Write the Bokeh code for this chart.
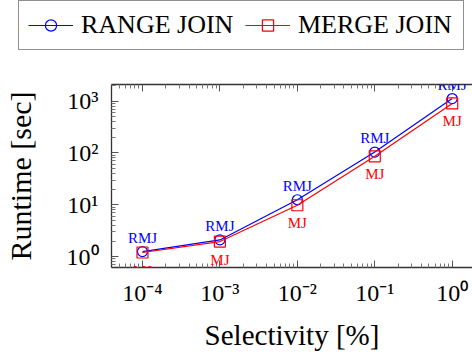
from bokeh.plotting import figure
from bokeh.layouts import column
from bokeh.models import (FixedTicker, LogAxis, Legend, LegendItem, Range1d,
                          ColumnDataSource, LabelSet)
from bokeh.embed import file_html
from bokeh.resources import INLINE

# ---- data -------------------------------------------------------------
selectivity = [1e-4, 1e-3, 1e-2, 1e-1, 1e0]
range_join = [1.25, 2.1, 12.5, 104, 1120]
merge_join = [1.2, 1.95, 9.8, 86, 900]
range_labels = ["RMJ", "RMJ", "RMJ", "RMJ", "RMJ"]
merge_labels = ["MJ", "MJ", "MJ", "MJ", "MJ"]
series_names = ["RANGE JOIN", "MERGE JOIN"]

x_ticks = [1e-4, 1e-3, 1e-2, 1e-1, 1e0]
x_tick_labels = ["10\u207b\u2074", "10\u207b\u00b3", "10\u207b\u00b2", "10\u207b\u00b9", "10\u2070"]
y_ticks = [1e0, 1e1, 1e2, 1e3]
y_tick_labels = ["10\u2070", "10\u00b9", "10\u00b2", "10\u00b3"]

FONT = "Liberation Serif"

x_minor = [m * 10.0 ** e for e in range(-5, 1) for m in range(2, 10)]
y_minor = [m * 10.0 ** e for e in range(-1, 4) for m in range(2, 10)]

# ---- main plot ---------------------------------------------------------
p = figure(width=472, height=300, x_axis_type="log", y_axis_type="log",
           x_range=Range1d(10 ** -4.4, 10 ** 0.262),
           y_range=Range1d(10 ** -0.21, 10 ** 3.32),
           output_backend="svg", toolbar_location=None,
           min_border_left=111, min_border_right=0,
           min_border_top=30, min_border_bottom=87)
p.frame_align = False
p.outline_line_color = None
p.xgrid.visible = False
p.ygrid.visible = False

def draw_series(fig, ys, color, marker, size, visible=True):
    ln = fig.line(selectivity, ys, line_color=color, line_width=1.2, visible=visible)
    mk = fig.scatter(selectivity, ys, marker=marker, size=size, line_color=color,
                     fill_color=None, line_width=1.2, visible=visible)
    return ln, mk

draw_series(p, range_join, "blue", "circle", 10)
draw_series(p, merge_join, "red", "square", 11)

range_src = ColumnDataSource(dict(x=selectivity, y=range_join, t=range_labels))
merge_src = ColumnDataSource(dict(x=selectivity, y=merge_join, t=merge_labels))
p.add_layout(LabelSet(x="x", y="y", text="t", source=range_src, text_color="blue",
                      text_align="center", text_baseline="alphabetic", y_offset=9,
                      text_font=FONT, text_font_size="15px"))
p.add_layout(LabelSet(x="x", y="y", text="t", source=merge_src, text_color="red",
                      text_align="center", text_baseline="top", y_offset=-10,
                      text_font=FONT, text_font_size="15px"))

def style_axis(ax, ticks, minor, labels):
    ax.ticker = FixedTicker(ticks=ticks, minor_ticks=minor)
    ax.major_tick_in = 7
    ax.major_tick_out = 0
    ax.minor_tick_in = 4
    ax.minor_tick_out = 0
    ax.axis_line_color = "#333333"
    ax.axis_line_width = 1.3
    ax.major_tick_line_color = "#555555"
    ax.minor_tick_line_color = "#777777"
    ax.major_label_overrides = dict(zip(ticks, labels))
    ax.major_label_text_font = FONT
    ax.major_label_text_color = "black"
    ax.major_label_text_font_size = "24px"
    ax.axis_label_text_font = FONT
    ax.axis_label_text_font_style = "normal"
    ax.axis_label_text_color = "black"
    ax.axis_label_text_font_size = "29px"

xa = p.xaxis[0]
style_axis(xa, x_ticks, x_minor, x_tick_labels)
xa.axis_label = "Selectivity [%]"
xa.major_label_standoff = 12
xa.axis_label_standoff = 10

ya = p.yaxis[0]
style_axis(ya, y_ticks, y_minor, y_tick_labels)
ya.axis_label = "Runtime [sec]"
ya.axis_label_text_font_size = "30px"
ya.major_label_standoff = 13
ya.axis_label_standoff = 27

top = LogAxis()
style_axis(top, x_ticks, x_minor, ["" for _ in x_ticks])
top.major_label_standoff = 0
p.add_layout(top, "above")

# ---- legend strip ------------------------------------------------------
lg = figure(width=472, height=54, x_axis_type="log", y_axis_type="log",
            output_backend="svg", toolbar_location=None, min_border=0,
            x_axis_location=None, y_axis_location=None)
lg.frame_align = False
lg.outline_line_color = None
lg.xgrid.visible = False
lg.ygrid.visible = False
r_line, r_mark = draw_series(lg, range_join, "blue", "circle", 10, visible=False)
m_line, m_mark = draw_series(lg, merge_join, "red", "square", 11, visible=False)

legend = Legend(items=[LegendItem(label=series_names[0], renderers=[r_line, r_mark]),
                       LegendItem(label=series_names[1], renderers=[m_line, m_mark])],
                orientation="horizontal", location=(18, 4), click_policy="none",
                label_text_font=FONT, label_text_font_size="26px",
                label_text_color="black", label_standoff=8, label_width=156,
                label_height=28, glyph_width=45, glyph_height=28,
                spacing=8, padding=9, margin=0,
                border_line_color="#222222", border_line_width=1.2,
                background_fill_color="white")
lg.add_layout(legend, "center")

page = column(lg, p, spacing=0)
open("out.html", "w").write(file_html(page, INLINE))
